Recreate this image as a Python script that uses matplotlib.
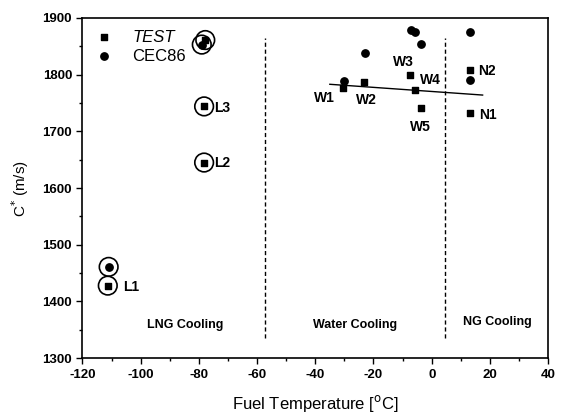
import matplotlib
matplotlib.use('Agg')
import matplotlib.pyplot as plt
from matplotlib.ticker import MultipleLocator

plt.rcParams['font.family'] = ['Liberation Sans', 'DejaVu Sans']
plt.rcParams['axes.unicode_minus'] = False

# TEST (squares)
test_x = [-111.3, -78.2, -78.2, -77.8, -30.6, -23.1, -7.3, -5.8, -3.8, 13.3, 13.0]
test_y = [1428, 1645, 1744, 1861, 1776, 1787, 1800, 1773, 1742, 1808, 1732]

# CEC86 (circles)
cec_x = [-111.0, -79.0, -30.3, -22.9, -7.0, -5.8, -3.8, 13.3, 13.0]
cec_y = [1461, 1853, 1789, 1839, 1879, 1876, 1854, 1875, 1791]

# open rings around LNG points
ring_x = [-111.0, -111.3, -78.2, -78.2, -79.0, -77.8]
ring_y = [1461, 1428, 1645, 1744, 1853, 1861]

# trend line through water cooling points
fit_x = [-35, 17.5]
fit_y = [1783, 1764]

# region borders
border_x = [-57.3, 4.5]
border_y = [1335, 1865]

point_labels = ['L1', 'L2', 'L3', 'W1', 'W2', 'W3', 'W4', 'W5', 'N1', 'N2']
label_x = [-106.1, -74.8, -74.8, -40.5, -25.9, -13.2, -4.1, -7.5, 16.4, 15.8]
label_y = [1425, 1645, 1741, 1759, 1755, 1823, 1791, 1708, 1729, 1806]

regions = ['LNG Cooling', 'Water Cooling', 'NG Cooling']
region_x = [-84.6, -26.2, 22.7]
region_y = [1358, 1358, 1364]

fig = plt.figure(figsize=(5.61, 4.17), dpi=100)
ax = fig.add_axes([0.147, 0.141, 0.830, 0.816])

ax.plot(fit_x, fit_y, color='black', lw=1, zorder=1)
for bx in border_x:
    ax.plot([bx, bx], border_y, color='black', lw=1, ls=(0, (3, 2)), zorder=1)

ax.scatter(ring_x, ring_y, s=180, facecolors='none', edgecolors='black', linewidths=1.2, zorder=2)
ax.scatter(test_x, test_y, marker='s', s=25, color='black', zorder=3, label='TEST')
ax.scatter(cec_x, cec_y, marker='o', s=28, color='black', zorder=3, label='CEC86')

for t, lx, ly in zip(point_labels, label_x, label_y):
    ax.text(lx, ly, t, fontsize=10, fontweight='bold', va='center', ha='left')

for t, rx, ry in zip(regions, region_x, region_y):
    ax.text(rx, ry, t, fontsize=9, fontweight='bold', va='center', ha='center')

ax.set_xlim(-120, 40)
ax.set_ylim(1300, 1900)
ax.xaxis.set_major_locator(MultipleLocator(20))
ax.xaxis.set_minor_locator(MultipleLocator(10))
ax.yaxis.set_major_locator(MultipleLocator(100))
ax.yaxis.set_minor_locator(MultipleLocator(50))
ax.tick_params(which='both', direction='out', top=False, right=False, labelsize=9.5)
ax.tick_params(which='major', length=4, width=1)
ax.tick_params(which='minor', length=2, width=1)
for lab in ax.get_xticklabels() + ax.get_yticklabels():
    lab.set_fontweight('bold')
for sp in ax.spines.values():
    sp.set_linewidth(1.2)

ax.set_xlabel('Fuel Temperature [$^{\\mathrm{o}}$C]', fontsize=12, labelpad=9)
ax.set_ylabel('C$^{*}$ (m/s)', fontsize=11, labelpad=8)

leg = ax.legend(loc='upper left', frameon=False, fontsize=12, handletextpad=1.3,
                borderaxespad=0.5, labelspacing=0.25, handlelength=0.8,
                bbox_to_anchor=(0.0, 1.01))
leg.get_texts()[0].set_fontstyle('italic')

fig.savefig('out.png', dpi=100)
